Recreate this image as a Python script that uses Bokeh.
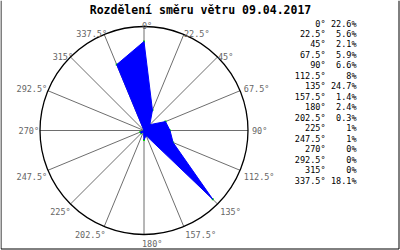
import math
from bokeh.plotting import figure
from bokeh.models import Range1d
from bokeh.core.properties import value
from bokeh.embed import file_html
from bokeh.resources import INLINE

title = "Rozdělení směru větru 09.04.2017"
angles = [0, 22.5, 45, 67.5, 90, 112.5, 135, 157.5, 180, 202.5, 225, 247.5, 270, 292.5, 315, 337.5]
dir_labels = ["0°", "22.5°", "45°", "67.5°", "90°", "112.5°", "135°", "157.5°",
              "180°", "202.5°", "225°", "247.5°", "270°", "292.5°", "315°", "337.5°"]
percent = [22.6, 5.6, 2.1, 5.9, 6.6, 8, 24.7, 1.4, 2.4, 0.3, 1, 1, 0, 0, 0, 18.1]
scale_max = 26.4  # percent at the outer circle

# layout (pixel-like data units, centre of rose at origin)
CX, CY = 143.5, 130.0
W, H = 400, 250
R = 104.0
FONT = "DejaVu Sans Mono"

def sx(x):
    return x - CX

def sy(y):
    return CY - y

p = figure(width=W, height=H, output_backend="svg", toolbar_location=None,
           x_range=Range1d(-CX, W - CX), y_range=Range1d(CY - H, CY),
           min_border=0, outline_line_color=None, background_fill_color="white",
           border_fill_color="white")
p.axis.visible = False
p.xgrid.visible = False
p.ygrid.visible = False

# spokes
sx0, sy0, sx1, sy1 = [], [], [], []
for a in angles:
    t = math.radians(a)
    sx0.append(0); sy0.append(0)
    sx1.append(R * math.sin(t)); sy1.append(R * math.cos(t))
p.segment(sx0, sy0, sx1, sy1, line_color="#6e6e6e", line_width=1)

# outer circle
p.circle([0], [0], radius=R, fill_color=None, line_color="black", line_width=1.3)

# data polygon
px, py = [], []
for a, v in zip(angles, percent):
    t = math.radians(a)
    r = v / scale_max * R
    px.append(r * math.sin(t)); py.append(r * math.cos(t))
p.scatter(px, py, marker="square", size=2, fill_color="#00e000", line_color=None)
p.patch(px, py, fill_color="#0000ff", line_color="#0000ff", line_width=1)

# direction labels
for a, lab in zip(angles, dir_labels):
    t = math.radians(a)
    s, c = math.sin(t), math.cos(t)
    if c > 0.5:
        base, rr = "alphabetic", R + 0.5
    elif c >= -1e-9:
        base, rr = "middle", R + 4
    else:
        base, rr = "top", R + 4
    x = rr * s
    y = rr * c
    if s < -1e-6:
        align = "right"
        x += 3
    else:
        align = "left"
        if abs(s) < 1e-6:
            x -= 2
    p.text([x], [y], text=[lab], text_align=align, text_baseline=base,
           text_font=value(FONT), text_font_size="8.5px", text_color="#666666")

# legend list
row0, step = 23.0, 10.47
for i, (lab, v) in enumerate(zip(dir_labels, percent)):
    y = sy(row0 + i * step)
    p.text([sx(325)], [y], text=[lab], text_align="right", text_baseline="middle",
           text_font=value(FONT), text_font_size="8.5px", text_color="black")
    p.text([sx(356)], [y], text=[f"{v:g}%"], text_align="right", text_baseline="middle",
           text_font=value(FONT), text_font_size="8.5px", text_color="black")

# title
p.text([sx(200)], [sy(9)], text=[title], text_align="center", text_baseline="middle",
       text_font=value(FONT), text_font_size="11.5px", text_font_style="bold",
       text_color="black")

# border (left, right, bottom)
p.line([sx(0.5), sx(0.5)], [sy(0), sy(248.5)], line_color="black", line_width=1)
p.line([sx(398.5), sx(398.5)], [sy(0), sy(248.5)], line_color="black", line_width=1)
p.line([sx(0.5), sx(398.5)], [sy(248.5), sy(248.5)], line_color="black", line_width=1)

open("out.html", "w").write(file_html(p, INLINE))
